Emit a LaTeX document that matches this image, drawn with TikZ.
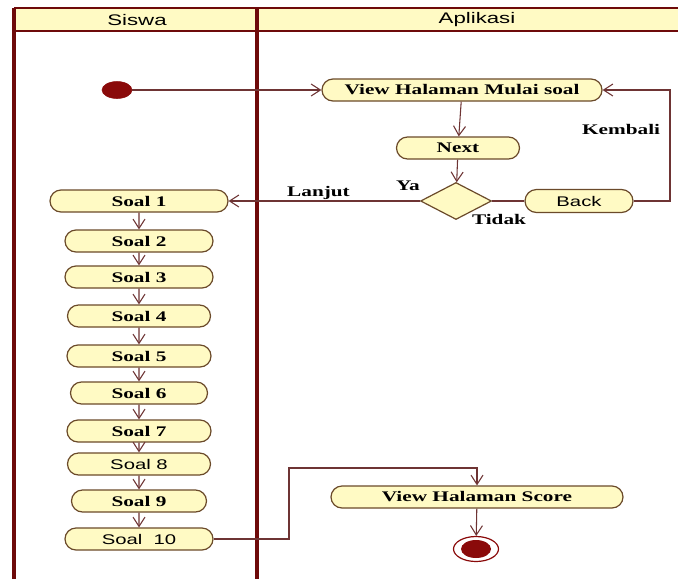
\documentclass[tikz,border=0pt]{standalone}
\usepackage{fontspec}
\usetikzlibrary{shapes.misc,shapes.geometric,arrows.meta}
\newfontfamily\umlserif[FakeStretch=1.45]{Liberation Serif}
\newfontfamily\umlsans[FakeStretch=1.45]{Liberation Sans}
\definecolor{lanered}{HTML}{6E0A0A}
\definecolor{actfill}{HTML}{FFFAC4}
\definecolor{actline}{HTML}{6B4A2A}
\definecolor{flowline}{HTML}{6E3434}
\definecolor{dotred}{HTML}{8A0A0A}
\tikzset{
  act/.style={draw=actline, fill=actfill, rounded rectangle, line width=0.9pt,
    minimum height=16.5pt, inner sep=0pt, font=\umlserif\bfseries\fontsize{11}{13}\selectfont},
  actsans/.style={act, font=\umlsans\fontsize{10.5}{12}\selectfont},
  flow/.style={draw=flowline, line width=0.8pt},
  lbl/.style={font=\umlserif\bfseries\fontsize{11}{13}\selectfont, inner sep=1pt},
  lanehead/.style={font=\umlsans\fontsize{11.5}{13}\selectfont}
}
\begin{document}
\begin{tikzpicture}[x=0.75pt, y=-0.75pt, >={Straight Barb[length=7pt,width=9pt]}]
\useasboundingbox[fill=white] (0,0) rectangle (678,579);
% Jalur (swimlane)
\fill[actfill] (14,8) rectangle (678,31);
\draw[lanered, line width=1.2pt] (14,8) -- (678,8);
\draw[lanered, line width=1.2pt] (14,31) -- (678,31);
\draw[lanered, line width=2.4pt] (14,8) -- (14,579);
\draw[lanered, line width=3.2pt] (257,8) -- (257,579);
\node[lanehead] (siswa) at (137,20) {Siswa};
\node[lanehead] (aplikasi) at (477,20) {Aplikasi};

% Aplikasi
\node[draw=dotred, fill=dotred, ellipse, minimum width=22.5pt, minimum height=12.75pt, inner sep=0pt] (start) at (117,90) {};
\node[act, minimum width=210pt] (mulai) at (462,90) {View Halaman Mulai soal};
\node[act, minimum width=92.25pt] (next) at (458,148) {Next};
\node[draw=actline, fill=actfill, diamond, line width=0.9pt, minimum width=53.25pt, minimum height=27.75pt, inner sep=0pt] (cek) at (456,201) {};
\node[actsans, minimum width=81pt, minimum height=17.25pt] (back) at (579,201) {Back};
\node[act, minimum width=219pt] (score) at (477,497) {View Halaman Score};
\node[draw=dotred, fill=white, ellipse, line width=0.9pt, minimum width=33.75pt, minimum height=18.75pt, inner sep=0pt] (end) at (476,549) {};
\node[fill=dotred, ellipse, minimum width=22.5pt, minimum height=13.5pt, inner sep=0pt] (endin) at (end) {};

% Siswa
\node[act, minimum width=133.5pt] (s1) at (139,201) {Soal 1};
\node[act, minimum width=111pt] (s2) at (139,241) {Soal 2};
\node[act, minimum width=111pt] (s3) at (139,277) {Soal 3};
\node[act, minimum width=107.25pt] (s4) at (139,316) {Soal 4};
\node[act, minimum width=108pt] (s5) at (139,356) {Soal 5};
\node[act, minimum width=102.75pt] (s6) at (139,393) {Soal 6};
\node[act, minimum width=108pt] (s7) at (139,431) {Soal 7};
\node[actsans, minimum width=107.25pt] (s8) at (139,464) {Soal 8};
\node[act, minimum width=101.25pt] (s9) at (139,501) {Soal 9};
\node[actsans, minimum width=111pt] (s10) at (139,539) {Soal\ \ 10};

% Alur
\coordinate (kb) at (670,201);
\coordinate (bend) at (289,468);
\draw[flow, ->] (start) -- (mulai);
\draw[flow, ->] (mulai) -- (next);
\draw[flow, ->] (next) -- (cek);
\draw[flow, ->] (cek.west) -- node[lbl, pos=0.53, above] {Lanjut} (s1.east);
\draw[flow] (cek.east) -- (back.west);
\draw[flow, ->] (back.east) -- (kb) |- node[lbl, pos=0.32, left=6pt] {Kembali} (mulai.east);
\node[lbl] (ya) at (408,186) {Ya};
\node[lbl] (tidak) at (499,219) {Tidak};
\draw[flow, ->] (s1) -- (s2);
\draw[flow, ->] (s2) -- (s3);
\draw[flow, ->] (s3) -- (s4);
\draw[flow, ->] (s4) -- (s5);
\draw[flow, ->] (s5) -- (s6);
\draw[flow, ->] (s6) -- (s7);
\draw[flow, ->] (s7) -- (s8);
\draw[flow, ->] (s8) -- (s9);
\draw[flow, ->] (s9) -- (s10);
\draw[flow, ->] (s10.east) -| (bend) -| (score.north);
\draw[flow, ->] (score) -- (end);
\end{tikzpicture}
\end{document}
